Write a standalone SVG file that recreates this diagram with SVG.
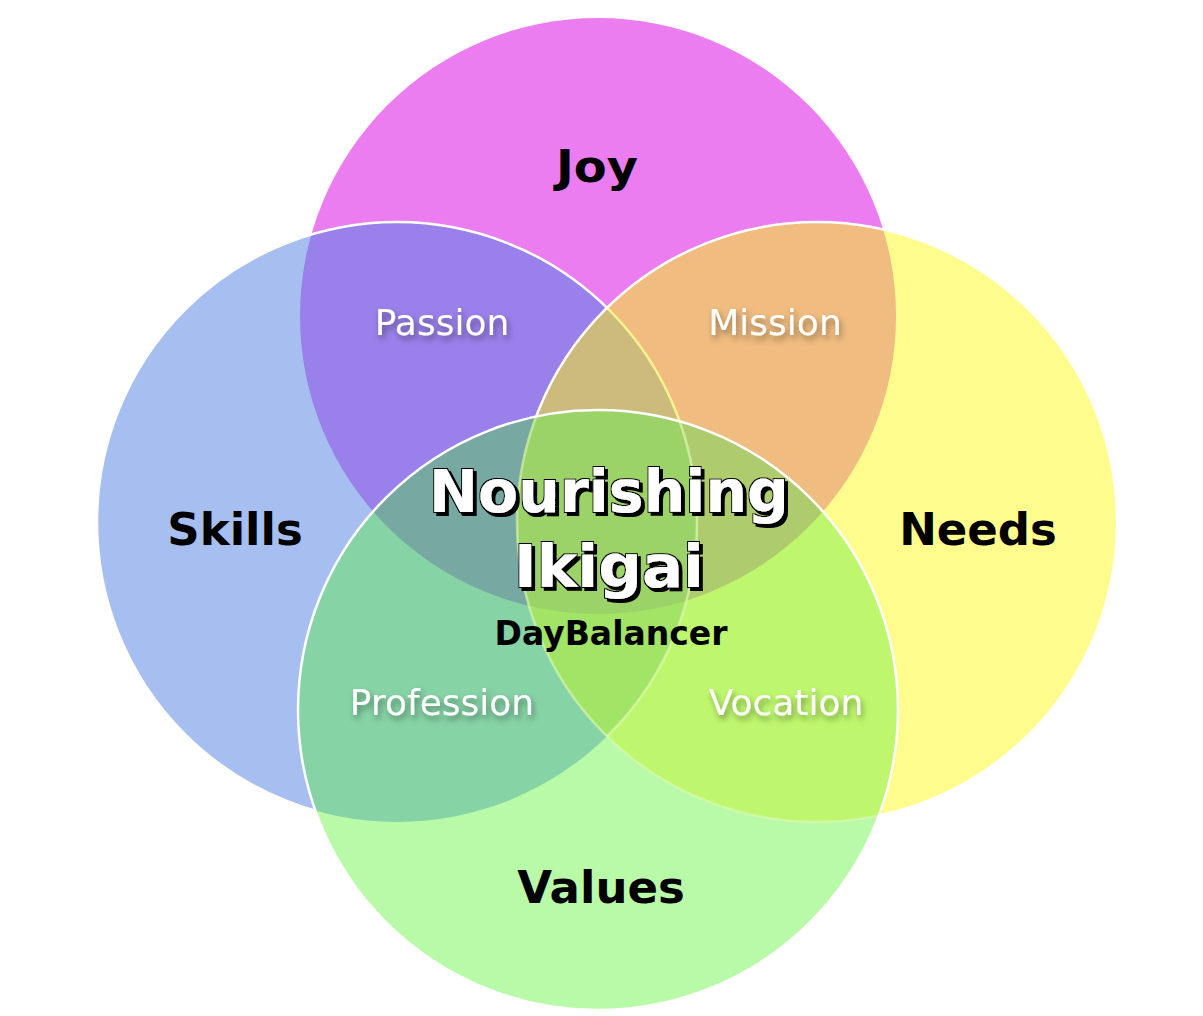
<svg xmlns="http://www.w3.org/2000/svg" width="1203" height="1016" viewBox="0 0 1203 1016">
  <style>
    .big { font-family: "DejaVu Sans", Verdana, sans-serif; font-weight: bold; font-size: 45px; fill: #000; text-anchor: middle; }
    .sub { font-family: "DejaVu Sans", Verdana, sans-serif; font-size: 36px; fill: #fff; text-anchor: middle; filter: url(#soft); }
    .title { font-family: "DejaVu Sans", Verdana, sans-serif; font-weight: bold; font-size: 58px; text-anchor: middle; fill: #fff; filter: url(#hard); }
    .brand { font-family: "DejaVu Sans", Verdana, sans-serif; font-weight: bold; font-size: 33px; fill: #000; text-anchor: middle; }
  </style>
  <defs>
    <circle id="cT" cx="598" cy="316" r="298"/>
    <circle id="cL" cx="397" cy="522" r="300"/>
    <circle id="cR" cx="817" cy="522" r="300"/>
    <circle id="cB" cx="598" cy="710" r="300"/>
    <clipPath id="kT"><use href="#cT"/></clipPath>
    <clipPath id="kL"><use href="#cL"/></clipPath>
    <clipPath id="kR"><use href="#cR"/></clipPath>
    <clipPath id="kB"><use href="#cB"/></clipPath>
    <mask id="mOutRB" maskUnits="userSpaceOnUse" x="0" y="0" width="1203" height="1016">
      <rect x="0" y="0" width="1203" height="1016" fill="#fff"/>
      <use href="#cR" fill="#000"/>
      <use href="#cB" fill="#000"/>
    </mask>
    <mask id="mOutB" maskUnits="userSpaceOnUse" x="0" y="0" width="1203" height="1016">
      <rect x="0" y="0" width="1203" height="1016" fill="#fff"/>
      <use href="#cB" fill="#000"/>
    </mask>
    <filter id="soft" x="-20%" y="-40%" width="140%" height="180%">
      <feDropShadow dx="2" dy="4" stdDeviation="3" flood-color="#000" flood-opacity="0.4"/>
    </filter>
    <filter id="hard" x="-10%" y="-20%" width="120%" height="150%">
      <feMorphology in="SourceAlpha" operator="dilate" radius="0.8" result="d"/>
      <feOffset in="d" dx="3" dy="3" result="o"/>
      <feMerge>
        <feMergeNode in="o"/>
        <feMergeNode in="d"/>
        <feMergeNode in="SourceGraphic"/>
      </feMerge>
    </filter>
  </defs>

  <rect x="0" y="0" width="1203" height="1016" fill="#fff"/>

  <g id="fills">
    <use id="joy-circle" href="#cT" fill="#EB7DF1"/>
    <use id="skills-circle" href="#cL" fill="#A6BFF0"/>
    <use id="needs-circle" href="#cR" fill="#FEFC8C"/>
    <use id="values-circle" href="#cB" fill="#B8FAA8"/>
    <g clip-path="url(#kT)">
      <use href="#cL" fill="#9A80EA"/>
      <use href="#cR" fill="#F0BC80"/>
    </g>
    <g clip-path="url(#kB)">
      <use href="#cL" fill="#86D3A6"/>
      <use href="#cR" fill="#BEF76E"/>
    </g>
    <g clip-path="url(#kT)">
      <g clip-path="url(#kL)">
        <use href="#cR" fill="#CCBB7C"/>
        <use href="#cB" fill="#78A8A2"/>
      </g>
      <g clip-path="url(#kR)">
        <use href="#cB" fill="#AECC6E"/>
      </g>
    </g>
    <g clip-path="url(#kB)">
      <g clip-path="url(#kL)">
        <use href="#cR" fill="#A2E466"/>
      </g>
    </g>
    <g clip-path="url(#kT)">
      <g clip-path="url(#kL)">
        <g clip-path="url(#kR)">
          <use href="#cB" fill="#9CD368"/>
        </g>
      </g>
    </g>
  </g>

  <g id="outlines" fill="none" stroke-width="2.5">
    <g mask="url(#mOutB)">
      <g clip-path="url(#kR)">
        <use href="#cL" stroke="#F8F38E"/>
      </g>
    </g>
    <g clip-path="url(#kB)">
      <g clip-path="url(#kR)">
        <use href="#cL" stroke="#DDF8B4" stroke-opacity="0.7"/>
      </g>
      <use href="#cR" stroke="#DDF8B4" stroke-opacity="0.6"/>
    </g>
    <g mask="url(#mOutRB)">
      <use href="#cL" stroke="#fff"/>
    </g>
    <g mask="url(#mOutB)">
      <use href="#cR" stroke="#fff"/>
    </g>
    <use href="#cB" stroke="#fff"/>
  </g>

  <g id="node-joy"><text class="big" x="597" y="182" textLength="82" lengthAdjust="spacingAndGlyphs">Joy</text></g>
  <g id="node-skills"><text class="big" x="235" y="545">Skills</text></g>
  <g id="node-needs"><text class="big" x="978" y="545">Needs</text></g>
  <g id="node-values"><text class="big" x="601" y="903">Values</text></g>

  <g id="node-passion"><text class="sub" x="442" y="335">Passion</text></g>
  <g id="node-mission"><text class="sub" x="775" y="335">Mission</text></g>
  <g id="node-profession"><text class="sub" x="442" y="715">Profession</text></g>
  <g id="node-vocation"><text class="sub" x="786" y="715">Vocation</text></g>

  <g id="node-center">
    <text class="title" x="609" y="512" textLength="360" lengthAdjust="spacingAndGlyphs">Nourishing</text>
    <text class="title" x="609" y="587" textLength="190" lengthAdjust="spacingAndGlyphs">Ikigai</text>
    <text class="brand" x="611" y="645" textLength="233" lengthAdjust="spacingAndGlyphs">DayBalancer</text>
  </g>
</svg>
